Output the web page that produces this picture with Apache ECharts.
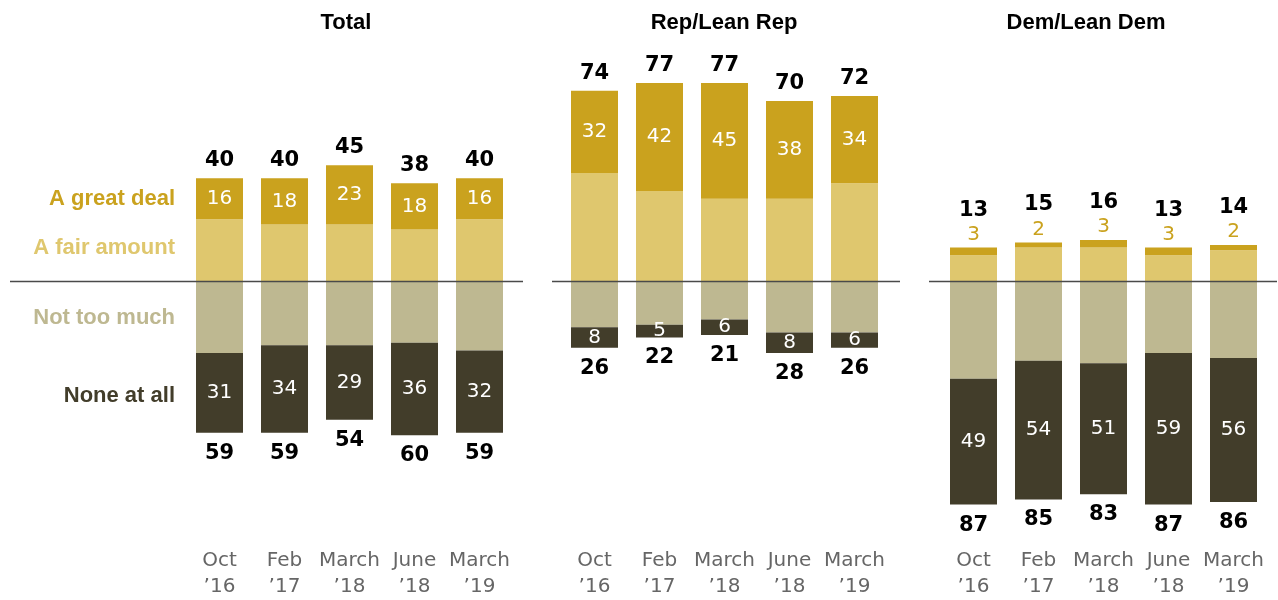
<!DOCTYPE html>
<html><head><meta charset="utf-8">
<script src="https://cdn.jsdelivr.net/npm/echarts@6/dist/echarts.min.js"></script>
<style>html,body{margin:0;padding:0;background:#fff}#c{width:1278px;height:600px}</style>
</head><body><div id="c"></div>
<script>
const categories = ['Oct\n\u201916', 'Feb\n\u201917', 'March\n\u201918', 'June\n\u201918', 'March\n\u201919'];
const panelTitles = ['Total', 'Rep/Lean Rep', 'Dem/Lean Dem'];
const legendNames = ['A great deal', 'A fair amount', 'Not too much', 'None at all'];

// Total
const totalGreat = [16, 18, 23, 18, 16];
const totalFair = [24, 22, 22, 20, 24];
const totalNotMuch = [28, 25, 25, 24, 27];
const totalNone = [31, 34, 29, 36, 32];
const totalPos = [40, 40, 45, 38, 40];
const totalNeg = [59, 59, 54, 60, 59];
// Rep/Lean Rep
const repGreat = [32, 42, 45, 38, 34];
const repFair = [42, 35, 32, 32, 38];
const repNotMuch = [18, 17, 15, 20, 20];
const repNone = [8, 5, 6, 8, 6];
const repPos = [74, 77, 77, 70, 72];
const repNeg = [26, 22, 21, 28, 26];
// Dem/Lean Dem
const demGreat = [3, 2, 3, 3, 2];
const demFair = [10, 13, 13, 10, 12];
const demNotMuch = [38, 31, 32, 28, 30];
const demNone = [49, 54, 51, 59, 56];
const demPos = [13, 15, 16, 13, 14];
const demNeg = [87, 85, 83, 87, 86];

const C_GREAT = '#CAA21E', C_FAIR = '#DFC76E', C_NTM = '#BEB891', C_NONE = '#423D2A';
const panels = [
  {great: totalGreat, fair: totalFair, ntm: totalNotMuch, none: totalNone, pos: totalPos, neg: totalNeg},
  {great: repGreat, fair: repFair, ntm: repNotMuch, none: repNone, pos: repPos, neg: repNeg},
  {great: demGreat, fair: demFair, ntm: demNotMuch, none: demNone, pos: demPos, neg: demNeg}
];
const gridLefts = [187, 562, 941];
const neg = a => a.map(v => -v);
const absFmt = p => Math.abs(p.value);
const INSIDE = {fontFamily: 'DejaVu Sans', fontSize: 20};

const grids = [], xAxes = [], yAxes = [], series = [];
panels.forEach((p, i) => {
  grids.push({left: gridLefts[i], width: 325, top: 24, height: 516});
  xAxes.push({type: 'category', gridIndex: i, data: categories,
    axisLine: {show: false}, axisTick: {show: false},
    axisLabel: {interval: 0, margin: 10, lineHeight: 26, fontFamily: 'DejaVu Sans', fontSize: 20, color: '#666'}});
  yAxes.push({type: 'value', gridIndex: i, min: -100, max: 100, show: false, splitLine: {show: false}});
  const isDem = i === 2;
  const base = {type: 'bar', xAxisIndex: i, yAxisIndex: i, barWidth: 47, barGap: '-100%', stack: 's' + i, animation: false};
  series.push(Object.assign({}, base, {name: 'A fair amount', data: p.fair, itemStyle: {color: C_FAIR}}));
  series.push(Object.assign({}, base, {name: 'A great deal', data: p.great, itemStyle: {color: C_GREAT},
    label: isDem ? Object.assign({show: true, position: 'top', distance: 3, color: C_GREAT}, INSIDE)
                 : Object.assign({show: true, position: 'inside', color: '#fff'}, INSIDE)}));
  series.push(Object.assign({}, base, {name: 'Not too much', data: neg(p.ntm), itemStyle: {color: C_NTM}}));
  series.push(Object.assign({}, base, {name: 'None at all', data: neg(p.none), itemStyle: {color: C_NONE},
    label: Object.assign({show: true, position: 'inside', color: '#fff', formatter: absFmt}, INSIDE)}));
  const tb = {type: 'bar', xAxisIndex: i, yAxisIndex: i, barWidth: 47, barGap: '-100%', animation: false,
    itemStyle: {color: 'rgba(0,0,0,0)'}, silent: true};
  series.push(Object.assign({}, tb, {name: 'posTotal' + i, data: p.pos,
    label: {show: true, position: 'top', distance: isDem ? 27 : 7, color: '#000', fontFamily: 'DejaVu Sans', fontWeight: 'bold', fontSize: 21}}));
  series.push(Object.assign({}, tb, {name: 'negTotal' + i, data: neg(p.neg),
    label: {show: true, position: 'bottom', distance: 10, color: '#000', fontFamily: 'DejaVu Sans', fontWeight: 'bold', fontSize: 21, formatter: absFmt}}));
});

const chart = echarts.init(document.getElementById('c'), null, {renderer: 'canvas'});
chart.setOption({animation: false, grid: grids, xAxis: xAxes, yAxis: yAxes, series: series});

// decorations computed from the axes
const graphics = [];
const lineSpans = [[10, 523], [552, 900], [929, 1277]];
const titleX = [346, 724, 1086];
panels.forEach((p, i) => {
  const y0 = Math.round(chart.convertToPixel({xAxisIndex: i, yAxisIndex: i}, [0, 0])[1]) + 0.5;
  graphics.push({type: 'line', shape: {x1: lineSpans[i][0], y1: y0, x2: lineSpans[i][1], y2: y0},
    style: {stroke: '#4a4a4a', lineWidth: 1.3}, z: 10});
  graphics.push({type: 'text', x: titleX[i], y: 23, style: {text: panelTitles[i], align: 'center', verticalAlign: 'middle',
    textAlign: 'center', textVerticalAlign: 'middle', font: 'bold 22px "Liberation Sans"', fill: '#000'}});
});
// legend labels beside the first bar of the Total panel
const p0 = panels[0];
const mids = [p0.fair[0] + p0.great[0] / 2, p0.fair[0] / 2, -p0.ntm[0] / 2, -(p0.ntm[0] + p0.none[0] / 2)];
const legColors = [C_GREAT, C_FAIR, C_NTM, C_NONE];
const legShift = [0, -2, 1, 3];
mids.forEach((m, k) => {
  const pt = chart.convertToPixel({xAxisIndex: 0, yAxisIndex: 0}, [0, m]);
  graphics.push({type: 'text', x: pt[0] - 23.5 - 21, y: pt[1] + legShift[k], style: {text: legendNames[k], align: 'right', verticalAlign: 'middle',
    textAlign: 'right', textVerticalAlign: 'middle', font: 'bold 22px "Liberation Sans"', fill: legColors[k]}});
});
chart.setOption({graphic: graphics});
</script></body></html>
